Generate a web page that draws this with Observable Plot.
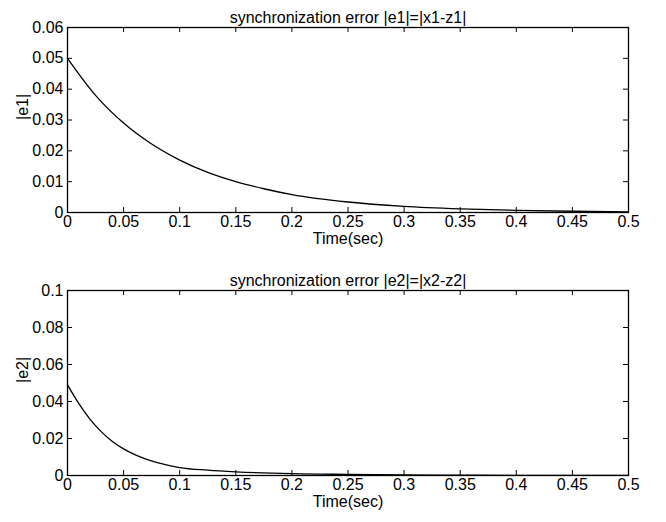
<!DOCTYPE html>
<html>
<head>
<meta charset="utf-8">
<script src="https://cdn.jsdelivr.net/npm/d3@7"></script>
<script src="https://cdn.jsdelivr.net/npm/@observablehq/plot@0.6"></script>
<style>
  html, body { margin: 0; padding: 0; background: #fff; }
  #chart svg { display: block; overflow: visible; }
</style>
</head>
<body>
<div id="chart"></div>
<script>
// ---- data ----
const xTicks = [0, 0.05, 0.1, 0.15, 0.2, 0.25, 0.3, 0.35, 0.4, 0.45, 0.5];
const xTickLabels = ["0", "0.05", "0.1", "0.15", "0.2", "0.25", "0.3", "0.35", "0.4", "0.45", "0.5"];

const y1Ticks = [0, 0.01, 0.02, 0.03, 0.04, 0.05, 0.06];
const y1TickLabels = ["0", "0.01", "0.02", "0.03", "0.04", "0.05", "0.06"];
const y2Ticks = [0, 0.02, 0.04, 0.06, 0.08, 0.1];
const y2TickLabels = ["0", "0.02", "0.04", "0.06", "0.08", "0.1"];

const t1 = [0, 0.025, 0.05, 0.075, 0.1, 0.125, 0.15, 0.175, 0.2, 0.25, 0.3, 0.35, 0.4, 0.45, 0.5];
const e1 = [0.050, 0.0380, 0.0290, 0.0222, 0.0170, 0.0130, 0.0100, 0.0077, 0.0058, 0.0034, 0.0020, 0.0012, 0.0007, 0.0004, 0.0002];

const t2 = [0, 0.01, 0.02, 0.03, 0.04, 0.05, 0.06, 0.07, 0.08, 0.09, 0.1, 0.125, 0.15, 0.2, 0.25, 0.3, 0.35, 0.4, 0.45, 0.5];
const e2 = [0.049, 0.0390, 0.0305, 0.0237, 0.0184, 0.0144, 0.0113, 0.0089, 0.0070, 0.0055, 0.0043, 0.0029, 0.0020, 0.0010, 0.0006, 0.0003, 0.0002, 0.0001, 0.0001, 0.0001];

const titles = ["synchronization error |e1|=|x1-z1|", "synchronization error |e2|=|x2-z2|"];
const yLabels = ["|e1|", "|e2|"];
const xLabel = "Time(sec)";

// ---- drawing ----
const W = 666, H = 261, ML = 67, MR = 38;
const FONT = "'Liberation Sans', Arial, Helvetica, sans-serif";
const FS = 16;

function panel({t, e, yDomain, yTicks, yTickLabels, title, ylabel, marginTop, marginBottom}) {
  const rows = t.map((d, i) => ({t: d, e: e[i]}));
  const frameW = W - ML - MR;
  const frameH = H - marginTop - marginBottom;
  const tk = 5;
  return Plot.plot({
    width: W, height: H,
    marginLeft: ML, marginRight: MR, marginTop, marginBottom,
    style: {fontFamily: FONT, fontSize: FS + "px", color: "black", background: "white", overflow: "visible"},
    x: {domain: [0, 0.5]},
    y: {domain: yDomain},
    marks: [
      Plot.lineY(rows, {x: "t", y: "e", curve: "monotone-x", stroke: "black", strokeWidth: 1.3}),
      Plot.tickX(xTicks, {x: d => d, insetTop: frameH - tk, stroke: "black"}),
      Plot.tickX(xTicks, {x: d => d, insetBottom: frameH - tk, stroke: "black"}),
      Plot.tickY(yTicks, {y: d => d, insetRight: frameW - tk, stroke: "black"}),
      Plot.tickY(yTicks, {y: d => d, insetLeft: frameW - tk, stroke: "black"}),
      Plot.frame({stroke: "black", strokeWidth: 1.3}),
      Plot.axisX(xTicks, {tickSize: 0, tickPadding: 3, label: null,
        tickFormat: d => xTickLabels[xTicks.indexOf(d)], fontSize: FS}),
      Plot.axisY(yTicks, {tickSize: 0, tickPadding: 4, label: null,
        tickFormat: d => yTickLabels[yTicks.indexOf(d)], fontSize: FS}),
      Plot.text([title], {text: d => d, frameAnchor: "top", dy: -16, fontSize: FS, fill: "black"}),
      Plot.text([xLabel], {text: d => d, frameAnchor: "bottom", dy: 31, fontSize: FS, fill: "black"}),
      Plot.text([ylabel], {text: d => d, frameAnchor: "left", dx: -45, rotate: -90, fontSize: FS, fill: "black"})
    ]
  });
}

const chart = document.getElementById("chart");
chart.append(panel({t: t1, e: e1, yDomain: [0, 0.06], yTicks: y1Ticks, yTickLabels: y1TickLabels,
  title: titles[0], ylabel: yLabels[0], marginTop: 27, marginBottom: 49}));
chart.append(panel({t: t2, e: e2, yDomain: [0, 0.1], yTicks: y2Ticks, yTickLabels: y2TickLabels,
  title: titles[1], ylabel: yLabels[1], marginTop: 29, marginBottom: 47}));
</script>
</body>
</html>
